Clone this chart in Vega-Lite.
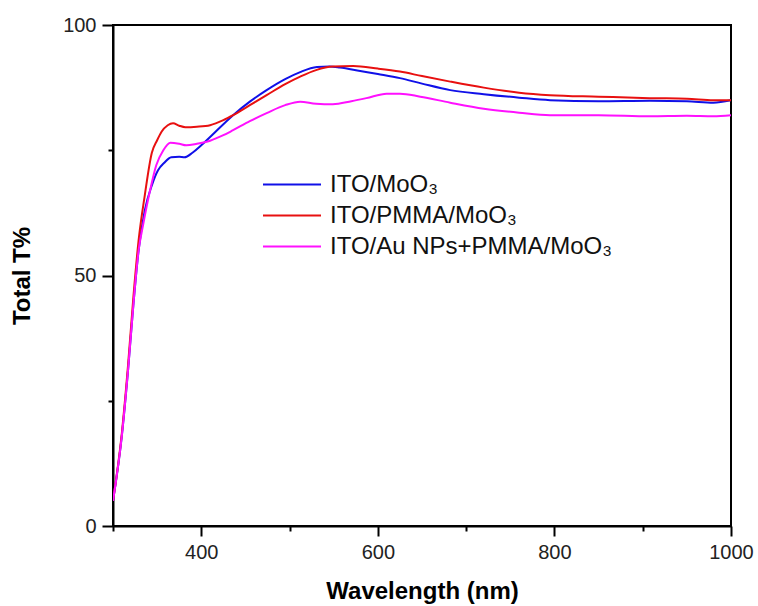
{
  "$schema": "https://vega.github.io/schema/vega-lite/v6.json",
  "width": 618,
  "height": 501,
  "autosize": "none",
  "padding": {"left": 113, "top": 25, "right": 27, "bottom": 80},
  "background": "white",
  "config": {
    "view": {"stroke": "black", "strokeWidth": 2},
    "font": "Liberation Sans"
  },
  "data": {
    "values": [
      {"s": "ITO/MoO₃", "w": 300, "t": 5},
      {"s": "ITO/MoO₃", "w": 310, "t": 18},
      {"s": "ITO/MoO₃", "w": 317, "t": 31},
      {"s": "ITO/MoO₃", "w": 323, "t": 44},
      {"s": "ITO/MoO₃", "w": 329, "t": 55},
      {"s": "ITO/MoO₃", "w": 336, "t": 63},
      {"s": "ITO/MoO₃", "w": 344, "t": 68},
      {"s": "ITO/MoO₃", "w": 351, "t": 71},
      {"s": "ITO/MoO₃", "w": 358, "t": 72.5},
      {"s": "ITO/MoO₃", "w": 366, "t": 73.6},
      {"s": "ITO/MoO₃", "w": 375, "t": 73.7},
      {"s": "ITO/MoO₃", "w": 381, "t": 73.6},
      {"s": "ITO/MoO₃", "w": 390, "t": 74.5},
      {"s": "ITO/MoO₃", "w": 400, "t": 76},
      {"s": "ITO/MoO₃", "w": 415, "t": 78.5},
      {"s": "ITO/MoO₃", "w": 436, "t": 82},
      {"s": "ITO/MoO₃", "w": 455, "t": 84.7},
      {"s": "ITO/MoO₃", "w": 474, "t": 87},
      {"s": "ITO/MoO₃", "w": 495, "t": 89.2},
      {"s": "ITO/MoO₃", "w": 512, "t": 90.6},
      {"s": "ITO/MoO₃", "w": 531, "t": 91.6},
      {"s": "ITO/MoO₃", "w": 545, "t": 91.7},
      {"s": "ITO/MoO₃", "w": 557, "t": 91.5},
      {"s": "ITO/MoO₃", "w": 580, "t": 90.8},
      {"s": "ITO/MoO₃", "w": 600, "t": 90.2},
      {"s": "ITO/MoO₃", "w": 625, "t": 89.4},
      {"s": "ITO/MoO₃", "w": 650, "t": 88.3},
      {"s": "ITO/MoO₃", "w": 682, "t": 87},
      {"s": "ITO/MoO₃", "w": 720, "t": 86.2},
      {"s": "ITO/MoO₃", "w": 760, "t": 85.5},
      {"s": "ITO/MoO₃", "w": 795, "t": 85},
      {"s": "ITO/MoO₃", "w": 850, "t": 84.8},
      {"s": "ITO/MoO₃", "w": 908, "t": 84.9},
      {"s": "ITO/MoO₃", "w": 950, "t": 84.8},
      {"s": "ITO/MoO₃", "w": 980, "t": 84.5},
      {"s": "ITO/MoO₃", "w": 1000, "t": 85},
      {"s": "ITO/PMMA/MoO₃", "w": 300, "t": 5},
      {"s": "ITO/PMMA/MoO₃", "w": 310, "t": 18.5},
      {"s": "ITO/PMMA/MoO₃", "w": 317, "t": 32},
      {"s": "ITO/PMMA/MoO₃", "w": 323, "t": 45.5},
      {"s": "ITO/PMMA/MoO₃", "w": 329, "t": 57},
      {"s": "ITO/PMMA/MoO₃", "w": 336, "t": 66},
      {"s": "ITO/PMMA/MoO₃", "w": 344, "t": 74.5},
      {"s": "ITO/PMMA/MoO₃", "w": 350, "t": 77},
      {"s": "ITO/PMMA/MoO₃", "w": 355, "t": 78.7},
      {"s": "ITO/PMMA/MoO₃", "w": 362, "t": 80},
      {"s": "ITO/PMMA/MoO₃", "w": 368, "t": 80.4},
      {"s": "ITO/PMMA/MoO₃", "w": 375, "t": 79.9},
      {"s": "ITO/PMMA/MoO₃", "w": 382, "t": 79.6},
      {"s": "ITO/PMMA/MoO₃", "w": 395, "t": 79.7},
      {"s": "ITO/PMMA/MoO₃", "w": 410, "t": 80},
      {"s": "ITO/PMMA/MoO₃", "w": 425, "t": 81},
      {"s": "ITO/PMMA/MoO₃", "w": 436, "t": 82},
      {"s": "ITO/PMMA/MoO₃", "w": 455, "t": 84},
      {"s": "ITO/PMMA/MoO₃", "w": 474, "t": 86},
      {"s": "ITO/PMMA/MoO₃", "w": 495, "t": 88.2},
      {"s": "ITO/PMMA/MoO₃", "w": 512, "t": 89.7},
      {"s": "ITO/PMMA/MoO₃", "w": 530, "t": 91},
      {"s": "ITO/PMMA/MoO₃", "w": 549, "t": 91.7},
      {"s": "ITO/PMMA/MoO₃", "w": 572, "t": 91.8},
      {"s": "ITO/PMMA/MoO₃", "w": 600, "t": 91.3},
      {"s": "ITO/PMMA/MoO₃", "w": 625, "t": 90.7},
      {"s": "ITO/PMMA/MoO₃", "w": 650, "t": 89.8},
      {"s": "ITO/PMMA/MoO₃", "w": 682, "t": 88.7},
      {"s": "ITO/PMMA/MoO₃", "w": 720, "t": 87.5},
      {"s": "ITO/PMMA/MoO₃", "w": 760, "t": 86.5},
      {"s": "ITO/PMMA/MoO₃", "w": 795, "t": 86},
      {"s": "ITO/PMMA/MoO₃", "w": 850, "t": 85.7},
      {"s": "ITO/PMMA/MoO₃", "w": 908, "t": 85.4},
      {"s": "ITO/PMMA/MoO₃", "w": 950, "t": 85.3},
      {"s": "ITO/PMMA/MoO₃", "w": 980, "t": 85},
      {"s": "ITO/PMMA/MoO₃", "w": 1000, "t": 85},
      {"s": "ITO/Au NPs+PMMA/MoO₃", "w": 300, "t": 5},
      {"s": "ITO/Au NPs+PMMA/MoO₃", "w": 310, "t": 18},
      {"s": "ITO/Au NPs+PMMA/MoO₃", "w": 317, "t": 31},
      {"s": "ITO/Au NPs+PMMA/MoO₃", "w": 323, "t": 44},
      {"s": "ITO/Au NPs+PMMA/MoO₃", "w": 329, "t": 55},
      {"s": "ITO/Au NPs+PMMA/MoO₃", "w": 334, "t": 60},
      {"s": "ITO/Au NPs+PMMA/MoO₃", "w": 342, "t": 67},
      {"s": "ITO/Au NPs+PMMA/MoO₃", "w": 349, "t": 72},
      {"s": "ITO/Au NPs+PMMA/MoO₃", "w": 357, "t": 75},
      {"s": "ITO/Au NPs+PMMA/MoO₃", "w": 365, "t": 76.5},
      {"s": "ITO/Au NPs+PMMA/MoO₃", "w": 375, "t": 76.3},
      {"s": "ITO/Au NPs+PMMA/MoO₃", "w": 383, "t": 76},
      {"s": "ITO/Au NPs+PMMA/MoO₃", "w": 395, "t": 76.3},
      {"s": "ITO/Au NPs+PMMA/MoO₃", "w": 410, "t": 76.9},
      {"s": "ITO/Au NPs+PMMA/MoO₃", "w": 425, "t": 78},
      {"s": "ITO/Au NPs+PMMA/MoO₃", "w": 436, "t": 79},
      {"s": "ITO/Au NPs+PMMA/MoO₃", "w": 455, "t": 80.8},
      {"s": "ITO/Au NPs+PMMA/MoO₃", "w": 474, "t": 82.4},
      {"s": "ITO/Au NPs+PMMA/MoO₃", "w": 495, "t": 84},
      {"s": "ITO/Au NPs+PMMA/MoO₃", "w": 512, "t": 84.7},
      {"s": "ITO/Au NPs+PMMA/MoO₃", "w": 530, "t": 84.3},
      {"s": "ITO/Au NPs+PMMA/MoO₃", "w": 549, "t": 84.2},
      {"s": "ITO/Au NPs+PMMA/MoO₃", "w": 570, "t": 84.8},
      {"s": "ITO/Au NPs+PMMA/MoO₃", "w": 587, "t": 85.4},
      {"s": "ITO/Au NPs+PMMA/MoO₃", "w": 610, "t": 86.3},
      {"s": "ITO/Au NPs+PMMA/MoO₃", "w": 625, "t": 86.3},
      {"s": "ITO/Au NPs+PMMA/MoO₃", "w": 648, "t": 85.7},
      {"s": "ITO/Au NPs+PMMA/MoO₃", "w": 682, "t": 84.5},
      {"s": "ITO/Au NPs+PMMA/MoO₃", "w": 720, "t": 83.3},
      {"s": "ITO/Au NPs+PMMA/MoO₃", "w": 760, "t": 82.5},
      {"s": "ITO/Au NPs+PMMA/MoO₃", "w": 795, "t": 82},
      {"s": "ITO/Au NPs+PMMA/MoO₃", "w": 850, "t": 82},
      {"s": "ITO/Au NPs+PMMA/MoO₃", "w": 908, "t": 81.8},
      {"s": "ITO/Au NPs+PMMA/MoO₃", "w": 950, "t": 81.9},
      {"s": "ITO/Au NPs+PMMA/MoO₃", "w": 980, "t": 81.8},
      {"s": "ITO/Au NPs+PMMA/MoO₃", "w": 1000, "t": 82}
    ]
  },
  "mark": {"type": "line", "strokeWidth": 2, "interpolate": "monotone", "clip": true},
  "encoding": {
    "x": {
      "field": "w", "type": "quantitative",
      "scale": {"domain": [300, 1000], "nice": false},
      "axis": {
        "title": "Wavelength (nm)",
        "values": [300, 400, 500, 600, 700, 800, 900, 1000],
        "format": "d",
        "labelExpr": "datum.value % 200 === 0 ? datum.label : ''",
        "grid": false,
        "domainColor": "black", "domainWidth": 2,
        "tickColor": "black", "tickWidth": 2,
        "tickSize": {"condition": {"test": "datum.value % 200 === 0", "value": 10}, "value": 5},
        "labelFontSize": 20, "labelColor": "#222", "labelPadding": 6,
        "labelFlush": false,
        "titleFontSize": 24, "titleFontWeight": "bold", "titleColor": "black", "titlePadding": 17
      }
    },
    "y": {
      "field": "t", "type": "quantitative",
      "scale": {"domain": [0, 100], "nice": false},
      "axis": {
        "title": "Total T%",
        "values": [0, 25, 50, 75, 100],
        "labelExpr": "datum.value % 50 === 0 ? datum.label : ''",
        "grid": false,
        "domainColor": "black", "domainWidth": 2,
        "tickColor": "black", "tickWidth": 2,
        "tickSize": {"condition": {"test": "datum.value % 50 === 0", "value": 11}, "value": 5},
        "labelFontSize": 20, "labelColor": "#222", "labelPadding": 6,
        "labelFlush": false,
        "titleFontSize": 24, "titleFontWeight": "bold", "titleColor": "black", "titlePadding": 28
      }
    },
    "color": {
      "field": "s", "type": "nominal",
      "scale": {
        "domain": ["ITO/MoO₃", "ITO/PMMA/MoO₃", "ITO/Au NPs+PMMA/MoO₃"],
        "range": ["#1010e8", "#e81010", "#ff10ff"]
      },
      "legend": {
        "title": null,
        "orient": "none",
        "legendX": 149,
        "legendY": 144,
        "symbolType": "stroke",
        "symbolSize": 3364,
        "symbolStrokeWidth": 2,
        "labelFontSize": 24,
        "labelColor": "#111",
        "labelOffset": 8,
        "labelLimit": 0,
        "clipHeight": 31,
        "rowPadding": 0,
        "padding": 0
      }
    }
  }
}
